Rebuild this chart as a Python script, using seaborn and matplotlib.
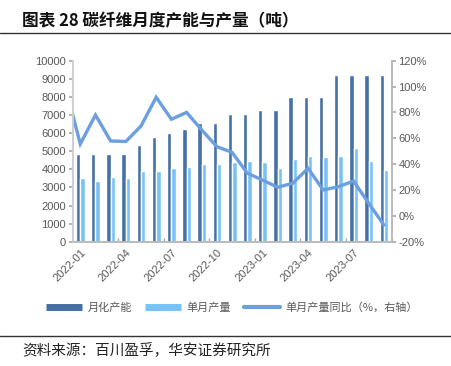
import numpy as np
import pandas as pd
import matplotlib
matplotlib.use("Agg")
import matplotlib.pyplot as plt
from matplotlib.lines import Line2D
import seaborn as sns

months = [
    "2022-01", "2022-02", "2022-03", "2022-04", "2022-05", "2022-06", "2022-07",
    "2022-08", "2022-09", "2022-10", "2022-11", "2022-12", "2023-01", "2023-02",
    "2023-03", "2023-04", "2023-05", "2023-06", "2023-07", "2023-08", "2023-09",
]
capacity = [4850, 4850, 4850, 4850, 5350, 5800, 6000, 6250, 6550, 6550, 7050,
            7050, 7300, 7300, 8000, 8000, 8000, 9200, 9200, 9200, 9200]
output = [3500, 3350, 3600, 3500, 3900, 3900, 4050, 4100, 4300, 4300, 4400,
          4450, 4400, 4050, 4550, 4750, 4700, 4750, 5150, 4450, 3950]
# yoy (%), first value is 2021-12, clipped by the axis edge
yoy_months = ["2021-12"] + months
yoy = [101, 55.6, 78, 57.9, 57.5, 69.5, 91.7, 74.7, 80, 66.4, 53.5, 49.1, 33,
       27.7, 22.1, 25.2, 36.8, 20, 22.5, 26.9, 9.7, -7.1]

tick_labels = ["2022-01", "2022-04", "2022-07", "2022-10", "2023-01", "2023-04", "2023-07"]

names = ["月化产能", "单月产量", "单月产量同比（%，右轴）"]
c_dark = "#4571A6"
c_light = "#78C3F3"
c_line = "#6C9FE0"
grey = "#595959"

sns.set_theme(style="white")
plt.rcParams["font.family"] = ["Liberation Sans", "Noto Sans CJK SC", "DejaVu Sans"]

bars = pd.DataFrame({
    "month": months * 2,
    "value": capacity + output,
    "series": [names[0]] * len(months) + [names[1]] * len(months),
})
line_df = pd.DataFrame({"pos": np.arange(-1, len(months)), "yoy": yoy, "month": yoy_months})

fig = plt.figure(figsize=(4.51, 3.66), dpi=100)
ax = fig.add_axes([72.7 / 451, 1 - 241.7 / 366, (391.5 - 72.7) / 451, (241.7 - 60.7) / 366])

sns.barplot(data=bars, x="month", y="value", hue="series", order=months,
            palette=[c_dark, c_light], width=0.58, saturation=1, ax=ax, legend=False)

ax2 = ax.twinx()
sns.lineplot(data=line_df, x="pos", y="yoy", color=c_line, linewidth=2.4, ax=ax2,
             solid_joinstyle="miter")
ax2.set_ylim(-20, 120)
ax2.set_yticks(np.arange(-20, 121, 20))
ax2.set_yticklabels([f"{v}%" for v in range(-20, 121, 20)])

ax.set_xlim(-0.5, len(months) - 0.5)
ax2.set_xlim(-0.5, len(months) - 0.5)
ax.set_ylim(0, 10000)
ax.set_yticks(np.arange(0, 10001, 1000))
ax.set_xticks([months.index(m) for m in tick_labels])
ax.set_xticklabels(tick_labels, rotation=45, ha="right", rotation_mode="anchor")
ax.set_xticks(np.arange(2.5, len(months), 3), minor=True)
ax.tick_params(axis="x", which="major", length=0, labelsize=8, labelcolor=grey, pad=4)
ax.tick_params(axis="x", which="minor", direction="in", length=3, color="#aaaaaa", bottom=True)
ax.tick_params(axis="y", length=3, color="#aaaaaa", labelsize=8, labelcolor=grey, left=True, pad=2)
ax2.tick_params(axis="y", length=3, color="#aaaaaa", labelsize=8, labelcolor=grey, right=True, pad=2)
for a in (ax, ax2):
    a.set_xlabel("")
    a.set_ylabel("")
    a.spines["top"].set_visible(False)
    a.spines["left"].set_color("#d0d0d0")
    a.spines["right"].set_color("#bbbbbb")
    a.spines["bottom"].set_color("#bbbbbb")
    a.spines["bottom"].set_linewidth(1.2)
ax.set_zorder(ax2.get_zorder() - 1)
ax2.patch.set_visible(False)

handles = [
    Line2D([], [], color=c_dark, lw=5, solid_capstyle="butt"),
    Line2D([], [], color=c_light, lw=5, solid_capstyle="butt"),
    Line2D([], [], color=c_line, lw=3, solid_capstyle="round"),
]
fig.legend(handles, names, loc="center", bbox_to_anchor=(232 / 451, 1 - 307.5 / 366),
           ncol=3, frameon=False, handlelength=3.2, columnspacing=1.2, handletextpad=0.5,
           prop={"family": ["Noto Sans CJK SC"], "size": 8}, labelcolor=grey)

fig.text(22 / 451, 1 - 21 / 366, "图表 28 碳纤维月度产能与产量（吨）", ha="left", va="center",
         fontsize=12, fontweight="bold", family=["Noto Sans CJK SC"], color="#111111")
fig.add_artist(Line2D([0, 1], [1 - 33 / 366, 1 - 33 / 366], transform=fig.transFigure,
                      color="#333333", lw=1))
fig.add_artist(Line2D([0, 1], [1 - 336 / 366, 1 - 336 / 366], transform=fig.transFigure,
                      color="#333333", lw=1))
fig.text(22 / 451, 1 - 351 / 366, "资料来源：百川盈孚，华安证券研究所", ha="left", va="center",
         fontsize=10.5, family=["Noto Sans CJK SC"], color="#222222")

fig.savefig("out.png", dpi=100)
